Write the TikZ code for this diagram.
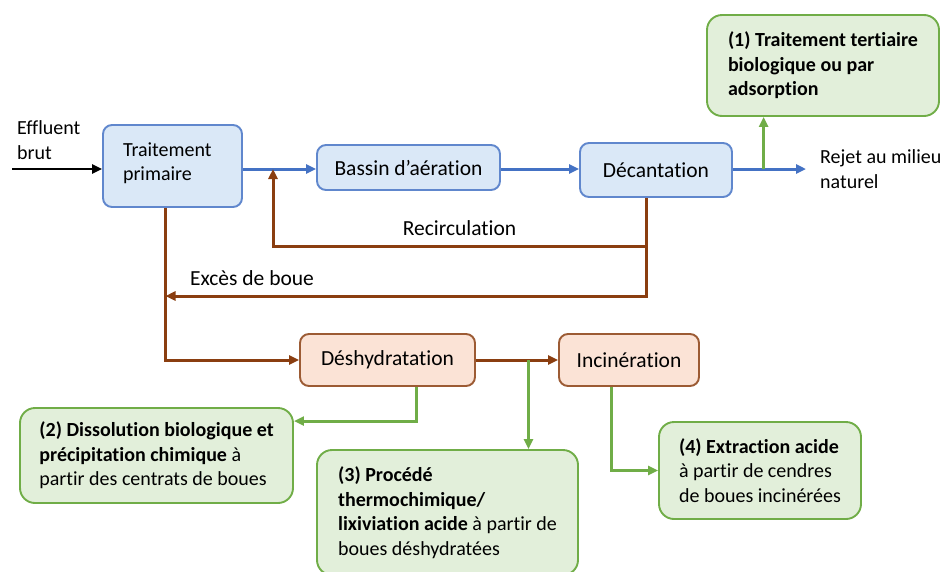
\documentclass[tikz,border=0pt]{standalone}
\usepackage{fontspec}
\setmainfont{Carlito}[Ligatures={NoCommon}]
\usepackage{xcolor}
\usetikzlibrary{positioning,arrows.meta}

\definecolor{blueline}{HTML}{4472C4}
\definecolor{bluefill}{HTML}{DAE8F7}
\definecolor{brownline}{HTML}{8A3E10}
\definecolor{orangefill}{HTML}{FBE3D6}
\definecolor{greenline}{HTML}{70AD47}
\definecolor{greenfill}{HTML}{E2EFDA}

\tikzset{
  txt/.style={font=\fontsize{20}{24.5}\selectfont},
  bigtxt/.style={font=\fontsize{21.5}{26}\selectfont},
  procbox/.style={bigtxt, draw=blueline!85, fill=bluefill, line width=1.9pt, rounded corners=9pt},
  sludgebox/.style={bigtxt, draw=brownline!85, fill=orangefill, line width=1.9pt, rounded corners=9pt},
  recovbox/.style={txt, draw=greenline, fill=greenfill, line width=1.9pt, rounded corners=15pt, align=left},
  tip/.style={-{Triangle[length=10pt,width=9pt]}},
  flowblack/.style={tip, draw=black, line width=2.3pt},
  flowblue/.style={tip, draw=blueline, line width=3pt},
  flowbrown/.style={tip, draw=brownline, line width=3pt},
  flowgreen/.style={tip, draw=greenline, line width=3pt},
}

\begin{document}
\begin{tikzpicture}[x=1pt, y=-1pt]
    \useasboundingbox (0,0) rectangle (940,571);

    % water line
    \node [procbox, txt, minimum width=139pt, minimum height=82pt, inner xsep=20pt, text width=99pt, align=left] (prim) at (172.5,166) {Traitement\\primaire\vspace{6pt}};
    \node [procbox, minimum width=183pt, minimum height=45pt] (bassin) at (408.5,167.5) {Bassin d’aération};
    \node [procbox, minimum width=152pt, minimum height=54pt] (decant) at (656,170) {Décantation};
    \node [recovbox, minimum width=232pt, minimum height=101pt] (tert) at (823,65.5) {\textbf{(1) Traitement tertiaire}\\\textbf{biologique ou par}\\\textbf{adsorption}};

    \coordinate (in) at (12,169);
    \coordinate (out) at (806,169);
    \coordinate (recirc) at (273,169);
    \node [txt, inner sep=0pt, align=left, anchor=west] (effl) at (17,140) {Effluent\\brut};
    \node [txt, inner sep=0pt, align=left, right=14pt of out] (rejet) {Rejet au milieu\\naturel};

    % sludge line
    \node [sludgebox, minimum width=175pt, minimum height=52pt] (dehyd) at (387.5,360) {Déshydratation};
    \node [sludgebox, minimum width=140pt, minimum height=52pt] (incin) at (629,360) {Incinération};

    % recovery routes
    \node [recovbox, minimum width=273pt, minimum height=95pt] (diss) at (156.5,455.5) {\textbf{(2) Dissolution biologique et}\\\textbf{précipitation chimique} à\\partir des centrats de boues};
    \node [recovbox, minimum width=261pt, minimum height=125pt] (thermo) at (447.5,512.5) {\textbf{(3) Procédé}\\\textbf{thermochimique/}\\\textbf{lixiviation acide} à partir de\\boues déshydratées};
    \node [recovbox, minimum width=202pt, minimum height=97pt] (extr) at (760,470.5) {\textbf{(4) Extraction acide}\\à partir de cendres\\de boues incinérées};

    \draw[flowblack] (in) -- (prim.west |- in);
    \draw[flowblue] (prim.east |- in) -- (bassin.west |- in);
    \draw[flowblue] (bassin.east |- in) -- (decant.west |- in);
    \draw[flowblue] (decant.east |- in) -- coordinate[pos=0.42] (tsplit) (out);
    \draw[flowgreen] (tsplit) -- (tsplit |- tert.south);

    \coordinate (junc) at (646,246);
    \coordinate (primfoot) at ([xshift=-7pt]prim.south);
    \draw[flowbrown] (decant.south -| junc) -- (junc) -| node[bigtxt, above=5.5pt, pos=0.25] {Recirculation} (recirc);
    \draw[flowbrown] (junc) |- node[bigtxt, above=5.5pt, pos=0.91] {Excès de boue} (primfoot |- 0,296);
    \draw[flowbrown] (primfoot) |- (dehyd.west);
    \draw[flowbrown] (dehyd) -- coordinate[pos=0.64] (split) (incin);

    \draw[flowgreen] ([xshift=28.5pt]dehyd.south) |- ([yshift=-14pt]diss.north east);
    \draw[flowgreen] (split) -- (split |- thermo.north);
    \draw[flowgreen] ([xshift=-18pt]incin.south) |- (extr.west);
\end{tikzpicture}
\end{document}
